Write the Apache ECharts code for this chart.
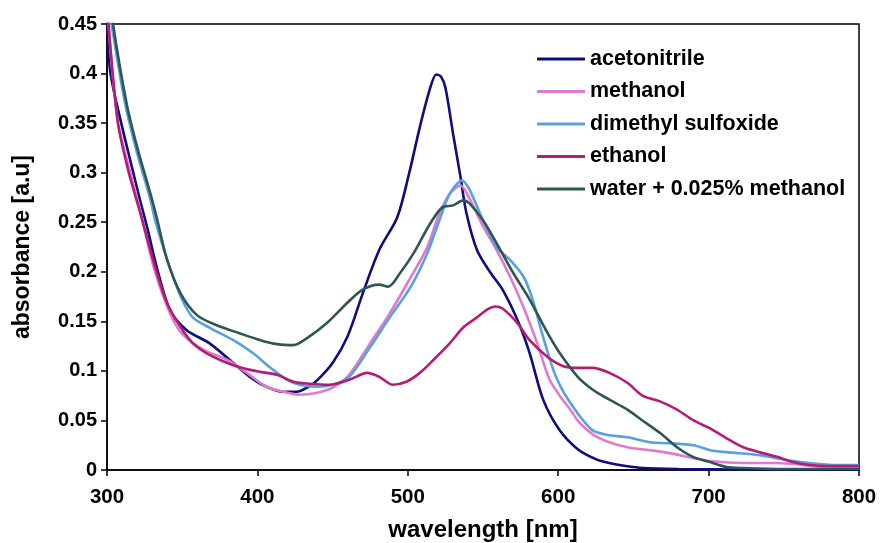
<!DOCTYPE html>
<html>
<head>
<meta charset="utf-8">
<script src="https://cdn.jsdelivr.net/npm/echarts@6/dist/echarts.min.js"></script>
<style>
html,body{margin:0;padding:0;background:#fff;}
#chart{width:880px;height:543px;}
</style>
</head>
<body>
<div id="chart"></div>
<script>
const seriesNames = ["acetonitrile", "methanol", "dimethyl sulfoxide", "ethanol", "water + 0.025% methanol"];
const seriesColors = ["#0d0d80", "#e07acb", "#58a0e0", "#b31d75", "#2e5753"];

const xTicks = [300, 400, 500, 600, 700, 800];
const yTicks = [0, 0.05, 0.1, 0.15, 0.2, 0.25, 0.3, 0.35, 0.4, 0.45];

const acnWl  = [300,302,309,317,322,327,333,342,353,368,384,395,406,417,426,434,440,450,460,470,481,493,501,508,515,519,522,525,530,535,539,546,555,563,573,581,590,601,613,625,634,645,656,680,720,800];
const acnAbs = [0.47,0.404,0.353,0.303,0.272,0.243,0.205,0.161,0.141,0.128,0.108,0.094,0.084,0.079,0.079,0.084,0.091,0.108,0.135,0.178,0.222,0.255,0.3,0.346,0.386,0.399,0.397,0.386,0.34,0.296,0.259,0.222,0.199,0.182,0.151,0.118,0.071,0.04,0.021,0.011,0.007,0.004,0.002,0.001,0.0005,0.0005];

const meoWl  = [300,307,315,322,331,340,348,357,366,380,393,406,420,428,440,450,461,475,488,501,513,521,528,535,541,550,559,568,577,586,594,601,608,614,623,634,646,661,674,690,701,723,745,779,800];
const meoAbs = [0.47,0.353,0.303,0.262,0.205,0.165,0.141,0.128,0.12,0.111,0.098,0.084,0.078,0.076,0.078,0.083,0.096,0.128,0.158,0.192,0.225,0.259,0.279,0.287,0.274,0.246,0.222,0.195,0.164,0.128,0.092,0.075,0.061,0.048,0.036,0.028,0.023,0.02,0.017,0.012,0.009,0.007,0.007,0.003,0.003];

const dmsoWl  = [300,303,312,320,329,332,340,349,357,369,384,397,408,420,428,440,450,461,475,488,502,513,521,528,536,541,550,559,568,577,583,590,597,603,608,614,623,634,646,661,674,690,701,712,734,752,767,785,800];
const dmsoAbs = [0.48,0.45,0.37,0.32,0.272,0.252,0.212,0.175,0.154,0.143,0.131,0.118,0.104,0.091,0.086,0.084,0.086,0.094,0.124,0.154,0.185,0.219,0.252,0.279,0.292,0.283,0.252,0.225,0.212,0.195,0.172,0.134,0.1,0.08,0.068,0.055,0.04,0.035,0.033,0.028,0.027,0.025,0.02,0.018,0.015,0.01,0.007,0.005,0.005];

const etoWl  = [300,307,314,322,332,340,349,357,366,380,390,402,413,424,435,448,461,473,481,490,499,508,517,528,537,546,553,558,563,573,581,593,603,613,623,634,646,656,668,679,690,701,712,723,734,746,756,767,779,800];
const etoAbs = [0.47,0.353,0.303,0.26,0.205,0.168,0.144,0.128,0.118,0.108,0.103,0.099,0.096,0.089,0.087,0.086,0.091,0.098,0.094,0.086,0.089,0.098,0.111,0.128,0.144,0.154,0.162,0.165,0.163,0.148,0.131,0.114,0.105,0.103,0.103,0.098,0.088,0.075,0.069,0.061,0.05,0.042,0.032,0.023,0.018,0.013,0.008,0.005,0.004,0.004];

const waterWl  = [300,304,313,320,329,333,340,349,360,373,388,402,413,424,433,446,460,470,481,487,495,504,515,523,530,537,541,550,559,570,581,593,601,613,623,634,646,656,668,679,690,701,712,723,750,800];
const waterAbs = [0.5,0.45,0.37,0.326,0.278,0.255,0.212,0.178,0.156,0.146,0.138,0.131,0.127,0.126,0.133,0.148,0.169,0.182,0.187,0.185,0.199,0.219,0.249,0.265,0.267,0.272,0.269,0.252,0.229,0.199,0.172,0.138,0.118,0.094,0.081,0.071,0.061,0.05,0.037,0.023,0.013,0.008,0.003,0.002,0.001,0.001];

const wlSets  = [acnWl, meoWl, dmsoWl, etoWl, waterWl];
const absSets = [acnAbs, meoAbs, dmsoAbs, etoAbs, waterAbs];

const FONT = "'Liberation Sans', Arial, sans-serif";

const chart = echarts.init(document.getElementById('chart'), null, {renderer: 'canvas'});

const series = seriesNames.map((name, i) => ({
  name: name,
  type: 'line',
  data: wlSets[i].map((w, k) => [w, absSets[i][k]]),
  showSymbol: false,
  symbol: 'none',
  smooth: 0.3,
  clip: true,
  lineStyle: {color: seriesColors[i], width: 2.6},
  itemStyle: {color: seriesColors[i]},
  emphasis: {disabled: true},
  animation: false
}));

chart.setOption({
  animation: false,
  backgroundColor: '#ffffff',
  textStyle: {fontFamily: FONT},
  grid: {
    left: 107, right: 21, top: 24, bottom: 73,
    containLabel: false,
    outerBoundsMode: 'none',
    show: true, borderColor: '#000', borderWidth: 1.5, backgroundColor: 'transparent'
  },
  legend: {
    orient: 'vertical',
    left: 532, top: 43,
    itemWidth: 48, itemHeight: 3,
    itemGap: 10.5,
    icon: 'rect',
    data: seriesNames,
    textStyle: {fontFamily: FONT, fontSize: 21.5, fontWeight: 'bold', color: '#000', lineHeight: 21.5, padding: [0,0,0,0]},
    selectedMode: false
  },
  xAxis: {
    type: 'value',
    min: xTicks[0], max: xTicks[xTicks.length - 1], interval: 100,
    name: 'wavelength [nm]',
    nameLocation: 'middle',
    nameGap: 48,
    nameTextStyle: {fontFamily: FONT, fontSize: 24, fontWeight: 'bold', color: '#000'},
    axisLine: {show: true, onZero: false, lineStyle: {color: '#000', width: 1.5}},
    axisTick: {show: true, inside: false, length: 6, lineStyle: {color: '#000', width: 1.5}},
    axisLabel: {fontFamily: FONT, fontSize: 20.5, fontWeight: 'bold', color: '#000', margin: 17},
    splitLine: {show: false}
  },
  yAxis: {
    type: 'value',
    min: yTicks[0], max: yTicks[yTicks.length - 1], interval: 0.05,
    name: 'absorbance [a.u]',
    nameLocation: 'middle',
    nameGap: 73,
    nameRotate: 90,
    nameTextStyle: {fontFamily: FONT, fontSize: 23, fontWeight: 'bold', color: '#000'},
    axisLine: {show: true, onZero: false, lineStyle: {color: '#000', width: 1.5}},
    axisTick: {show: true, inside: false, length: 6, lineStyle: {color: '#000', width: 1.5}},
    axisLabel: {fontFamily: FONT, fontSize: 20, fontWeight: 'bold', color: '#000', margin: 10,
      formatter: v => String(Math.round(v * 100) / 100)},
    splitLine: {show: false}
  },
  series: series
});
</script>
</body>
</html>
